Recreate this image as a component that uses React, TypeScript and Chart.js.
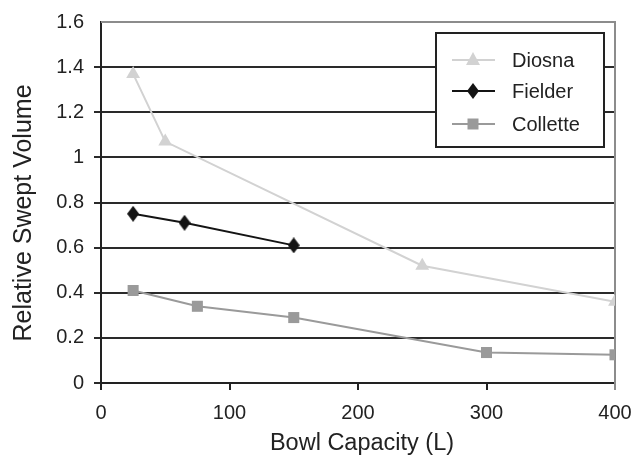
import React, { useEffect, useRef } from "react";
import { Chart, registerables } from "chart.js";

Chart.register(...registerables);

const diosnaX = [25, 50, 250, 400];
const diosnaY = [1.37, 1.07, 0.52, 0.36];
const fielderX = [25, 65, 150];
const fielderY = [0.75, 0.71, 0.61];
const colletteX = [25, 75, 150, 300, 400];
const colletteY = [0.41, 0.34, 0.29, 0.135, 0.125];
const seriesNames = ["Diosna", "Fielder", "Collette"];
const seriesColors = ["#d2d2d2", "#141414", "#9a9a9a"];
const xTitle = "Bowl Capacity (L)";
const yTitle = "Relative Swept Volume";

const FONT = "'Liberation Sans', Arial, sans-serif";

function makeDiamond(color: string) {
  const c = document.createElement("canvas");
  c.width = 12;
  c.height = 16;
  const ctx = c.getContext("2d")!;
  ctx.fillStyle = color;
  ctx.beginPath();
  ctx.moveTo(6, 0);
  ctx.lineTo(12, 8);
  ctx.lineTo(6, 16);
  ctx.lineTo(0, 8);
  ctx.closePath();
  ctx.fill();
  return c;
}

function drawMarker(ctx: CanvasRenderingContext2D, i: number, x: number, y: number) {
  ctx.fillStyle = seriesColors[i];
  ctx.beginPath();
  if (i === 0) {
    ctx.moveTo(x, y - 8);
    ctx.lineTo(x + 7, y + 5);
    ctx.lineTo(x - 7, y + 5);
    ctx.closePath();
  } else if (i === 1) {
    ctx.moveTo(x, y - 8);
    ctx.lineTo(x + 6, y);
    ctx.lineTo(x, y + 8);
    ctx.lineTo(x - 6, y);
    ctx.closePath();
  } else {
    ctx.rect(x - 5.5, y - 5.5, 11, 11);
  }
  ctx.fill();
}

const framePlugin = {
  id: "frame",
  beforeDatasetsDraw(chart: any) {
    const { ctx, chartArea } = chart;
    ctx.save();
    ctx.strokeStyle = "#8c8c8c";
    ctx.lineWidth = 2;
    ctx.beginPath();
    ctx.moveTo(chartArea.left, chartArea.top);
    ctx.lineTo(chartArea.right, chartArea.top);
    ctx.lineTo(chartArea.right, chartArea.bottom + 7);
    ctx.stroke();
    ctx.restore();
  },
};

const titlesPlugin = {
  id: "axisTitles",
  afterDraw(chart: any) {
    const { ctx, chartArea } = chart;
    ctx.save();
    ctx.fillStyle = "#222222";
    ctx.textAlign = "center";
    ctx.textBaseline = "middle";
    ctx.font = `23.5px ${FONT}`;
    ctx.fillText(xTitle, (chartArea.left + chartArea.right) / 2 + 4, 444);
    ctx.translate(24, 213);
    ctx.rotate(-Math.PI / 2);
    ctx.font = `25px ${FONT}`;
    ctx.fillText(yTitle, 0, 0);
    ctx.restore();
  },
};

const legendPlugin = {
  id: "boxLegend",
  afterDraw(chart: any) {
    const { ctx } = chart;
    const x0 = 436, y0 = 33, w = 168, h = 114;
    ctx.save();
    ctx.fillStyle = "#ffffff";
    ctx.fillRect(x0, y0, w, h);
    ctx.strokeStyle = "#222222";
    ctx.lineWidth = 2;
    ctx.strokeRect(x0, y0, w, h);
    const rows = [60, 91, 124];
    seriesNames.forEach((name, i) => {
      const y = rows[i];
      ctx.strokeStyle = seriesColors[i];
      ctx.lineWidth = 2;
      ctx.beginPath();
      ctx.moveTo(452, y);
      ctx.lineTo(495, y);
      ctx.stroke();
      drawMarker(ctx, i, 473, y);
      ctx.fillStyle = "#222222";
      ctx.font = `20px ${FONT}`;
      ctx.textBaseline = "middle";
      ctx.textAlign = "left";
      ctx.fillText(name, 512, y + 1);
    });
    ctx.restore();
  },
};

export default function App() {
  const ref = useRef<HTMLCanvasElement>(null);
  useEffect(() => {
    if (!ref.current) return;
    const toPts = (xs: number[], ys: number[]) => xs.map((x, i) => ({ x, y: ys[i] }));
    const chart = new Chart(ref.current, {
      type: "line",
      data: {
        datasets: [
          {
            label: seriesNames[0],
            data: toPts(diosnaX, diosnaY),
            borderColor: seriesColors[0],
            backgroundColor: seriesColors[0],
            borderWidth: 2,
            pointStyle: "triangle",
            pointRadius: 8,
            pointBorderWidth: 0,
          },
          {
            label: seriesNames[1],
            data: toPts(fielderX, fielderY),
            borderColor: seriesColors[1],
            backgroundColor: seriesColors[1],
            borderWidth: 2,
            pointStyle: makeDiamond(seriesColors[1]) as any,
            pointRadius: 8,
          },
          {
            label: seriesNames[2],
            data: toPts(colletteX, colletteY),
            borderColor: seriesColors[2],
            backgroundColor: seriesColors[2],
            borderWidth: 2,
            pointStyle: "rect",
            pointRadius: 7.8,
            pointBorderWidth: 0,
          },
        ],
      },
      options: {
        animation: false,
        responsive: false,
        layout: { padding: { left: 0, right: 21, top: 22, bottom: 0 } },
        plugins: { legend: { display: false }, tooltip: { enabled: false } },
        scales: {
          x: {
            type: "linear",
            min: 0,
            max: 400,
            afterFit: (s: any) => { s.height = 72; s.paddingLeft = 0; s.paddingRight = 0; },
            ticks: { stepSize: 100, color: "#222", font: { family: FONT, size: 20 }, padding: 11, maxRotation: 0, autoSkip: false },
            grid: { drawOnChartArea: false, tickLength: 7, color: "#222", lineWidth: 2 },
            border: { color: "#222", width: 2 },
          },
          y: {
            min: 0,
            max: 1.6,
            afterFit: (s: any) => { s.width = 101; s.paddingTop = 0; s.paddingBottom = 0; },
            ticks: {
              stepSize: 0.2,
              color: "#222",
              font: { family: FONT, size: 20 },
              padding: 10,
              autoSkip: false,
              callback: (v: any) => String(Math.round(Number(v) * 10) / 10),
            },
            grid: {
              tickLength: 7,
              color: (c: any) => (c.tick && c.tick.value >= 1.6 ? "rgba(0,0,0,0)" : "#2a2a2a"),
              lineWidth: 2,
            },
            border: { color: "#222", width: 2 },
          },
        },
      },
      plugins: [framePlugin, titlesPlugin, legendPlugin],
    });
    return () => chart.destroy();
  }, []);
  return (
    <div style={{ position: "fixed", left: 0, top: 0, width: 636, height: 455, background: "#fff" }}>
      <canvas ref={ref} width={636} height={455} />
    </div>
  );
}
